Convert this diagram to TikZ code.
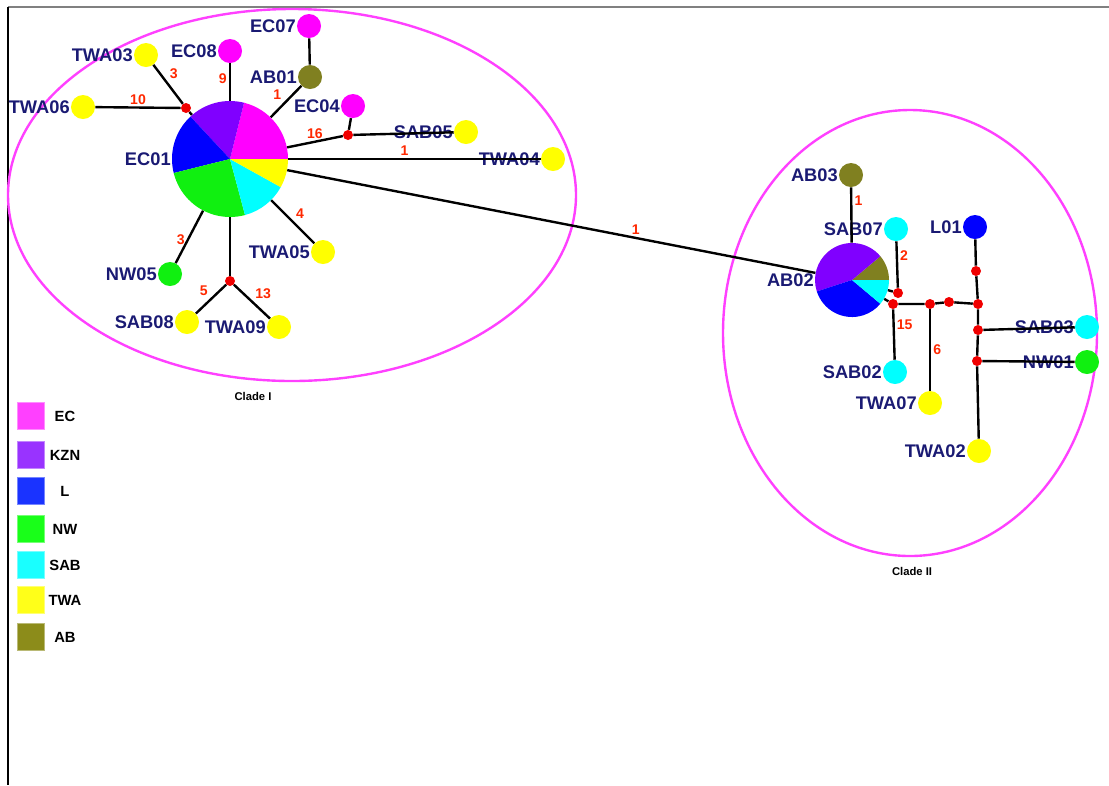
\documentclass[tikz,border=0pt]{standalone}
\usepackage{fontspec}
\setmainfont{Liberation Sans}
\usetikzlibrary{positioning, calc}
\definecolor{navytext}{RGB}{26,26,115}
\definecolor{numred}{RGB}{255,40,0}
\definecolor{dotred}{RGB}{240,0,0}
\definecolor{cladepink}{RGB}{255,64,255}
\definecolor{colEC}{RGB}{255,0,255}
\definecolor{colKZN}{RGB}{128,0,255}
\definecolor{colL}{RGB}{0,0,255}
\definecolor{colNW}{RGB}{16,240,16}
\definecolor{colSAB}{RGB}{0,255,255}
\definecolor{colTWA}{RGB}{255,255,0}
\definecolor{colAB}{RGB}{128,128,32}
\definecolor{keyEC}{RGB}{255,64,255}
\definecolor{keyKZN}{RGB}{153,51,255}
\definecolor{keyL}{RGB}{26,51,255}
\definecolor{keyNW}{RGB}{25,255,25}
\definecolor{keySAB}{RGB}{25,255,255}
\definecolor{keyTWA}{RGB}{255,255,25}
\definecolor{keyAB}{RGB}{140,140,26}
\tikzset{>=stealth,
  hap/.style={circle, fill=#1, inner sep=0pt, minimum size=0.6cm},
  med/.style={circle, fill=dotred, inner sep=0pt, minimum size=0.25cm},
  pie/.style={circle, inner sep=0pt, minimum size=#1},
  tag/.style={font=\fontsize{13}{15}\selectfont\bfseries, text=navytext, inner sep=0.5pt},
  num/.style={font=\fontsize{10}{11}\selectfont\bfseries, text=numred, inner sep=1.5pt},
  link/.style={line width=1.7pt},
  clade/.style={draw=cladepink, line width=1.7pt},
  cladetag/.style={font=\fontsize{8}{9}\selectfont\bfseries},
  swatch/.style={fill=#1, draw=#1!60!white, minimum size=0.675cm, inner sep=0pt},
  keytag/.style={font=\fontsize{10.5}{12}\selectfont\bfseries}}

\begin{document}
\begin{tikzpicture}[x=0.025cm, y=-0.025cm]
	\useasboundingbox (0,0) rectangle (1109,785);
	\draw [gray, line width=1.4pt] (8,7) -- (1109,7);
	\draw [black, line width=0.8pt] (8,7) -- (8,785);
	
	%clades
	\draw [clade] (292,195) ellipse [x radius=284, y radius=186];
	\draw [clade] (910,333) ellipse [x radius=187, y radius=223];
	\node [cladetag] (cladeI) at (253,396) {Clade I};
	\node [cladetag] (cladeII) at (912,571) {Clade II};
	
	%pie charts
	\foreach \a/\b/\c in {0/-76/colEC, -76/-133/colKZN, -133/-194/colL, -194/-285/colNW, -285/-331/colSAB, -331/-360/colTWA}
		\fill [\c] (230,159) -- ++(\a:58) arc [start angle=\a, end angle=\b, radius=58] -- cycle;
	\node [pie=2.9cm, label={[tag]left:EC01}] (EC01) at (230,159) {};
	\foreach \a/\b/\c in {0/-40/colAB, -40/-198/colKZN, -198/-320/colL, -320/-360/colSAB}
		\fill [\c] (852,280) -- ++(\a:37) arc [start angle=\a, end angle=\b, radius=37] -- cycle;
	\node [pie=1.85cm, label={[tag]left:AB02}] (AB02) at (852,280) {};
	
	%clade I haplotypes
	\node [hap=colTWA, label={[tag]left:TWA03}] (TWA03) at (146,55) {};
	\node [hap=colEC, label={[tag]left:EC08}] (EC08) at (230,51) {};
	\node [hap=colEC, label={[tag]left:EC07}] (EC07) at (309,26) {};
	\node [hap=colAB, label={[tag]left:AB01}] (AB01) at (310,77) {};
	\node [hap=colEC, label={[tag]left:EC04}] (EC04) at (353,106) {};
	\node [hap=colTWA, label={[tag]left:TWA06}] (TWA06) at (83,107) {};
	\node [hap=colTWA, label={[tag]left:SAB05}] (SAB05) at (466,132) {};
	\node [hap=colTWA, label={[tag]left:TWA04}] (TWA04) at (553,159) {};
	\node [hap=colTWA, label={[tag]left:TWA05}] (TWA05) at (323,252) {};
	\node [hap=colNW, label={[tag]left:NW05}] (NW05) at (170,274) {};
	\node [hap=colTWA, label={[tag]left:SAB08}] (SAB08) at (187,322) {};
	\node [hap=colTWA, label={[tag]left:TWA09}] (TWA09) at (279,327) {};
	\node [med] (m1) at (186,108) {};
	\node [med] (m2) at (348,135) {};
	\node [med] (m3) at (230,281) {};
	
	%clade II haplotypes
	\node [hap=colAB, label={[tag]left:AB03}] (AB03) at (851,175) {};
	\node [hap=colSAB, label={[tag]left:SAB07}] (SAB07) at (896,229) {};
	\node [hap=colL, label={[tag]left:L01}] (L01) at (975,227) {};
	\node [hap=colSAB, label={[tag]left:SAB03}] (SAB03) at (1087,327) {};
	\node [hap=colNW, label={[tag]left:NW01}] (NW01) at (1087,362) {};
	\node [hap=colSAB, label={[tag]left:SAB02}] (SAB02) at (895,372) {};
	\node [hap=colTWA, label={[tag]left:TWA07}] (TWA07) at (930,403) {};
	\node [hap=colTWA, label={[tag]left:TWA02}] (TWA02) at (979,451) {};
	\node [med] (n1) at (898,293) {};
	\node [med] (n2) at (893,304) {};
	\node [med] (n3) at (930,304) {};
	\node [med] (n4) at (949,302) {};
	\node [med] (n5) at (978,304) {};
	\node [med] (n6) at (976,271) {};
	\node [med] (n7) at (978,330) {};
	\node [med] (n8) at (977,361) {};
	
	%links
	\draw [link] (TWA03) -- node [num, above right, pos=.45] {3} (m1);
	\draw [link] (TWA06) -- node [num, above] {10} (m1);
	\draw [link] (m1) -- (EC01);
	\draw [link] (EC08) -- node [num, left, pos=.4] {9} (EC01);
	\draw [link] (EC07) -- (AB01);
	\draw [link] (AB01) -- node [num, above left, pos=.55] {1} (EC01);
	\draw [link] (EC04) -- (m2);
	\draw [link] (EC01) -- node [num, above] {16} (m2);
	\draw [link] (m2) -- (SAB05);
	\draw [link] (EC01) -- node [num, above, pos=.46] {1} (TWA04);
	\draw [link] (EC01) -- node [num, above right] {4} (TWA05);
	\draw [link] (EC01) -- node [num, left, pos=.55] {3} (NW05);
	\draw [link] (EC01) -- (m3);
	\draw [link] (m3) -- node [num, above left] {5} (SAB08);
	\draw [link] (m3) -- node [num, above right] {13} (TWA09);
	\draw [link] (EC01) -- node [num, above, pos=.66] {1} (AB02);
	\draw [link] (AB03) -- node [num, right, pos=.25] {1} (AB02);
	\draw [link] (SAB07) -- node [num, right, pos=.3] {2} (n1);
	\draw [link] (AB02) -- (n1);
	\draw [link] (AB02) -- (n2);
	\draw [link] (n2) -- (n3) -- (n4) -- (n5);
	\draw [link] (n2) -- node [num, right, pos=.3] {15} (SAB02);
	\draw [link] (n3) -- node [num, right] {6} (TWA07);
	\draw [link] (L01) -- (n6) -- (n5) -- (n7) -- (n8) -- (TWA02);
	\draw [link] (n7) -- (SAB03);
	\draw [link] (n8) -- (NW01);
	
	%legend
	\foreach \k/\y in {EC/416, KZN/455, L/491, NW/529, SAB/565, TWA/600, AB/637} {
		\node [swatch=key\k] (swatch\k) at (31,\y) {};
		\node [keytag] (keytag\k) at (65,\y) {\k};
	}
\end{tikzpicture}
\end{document}
